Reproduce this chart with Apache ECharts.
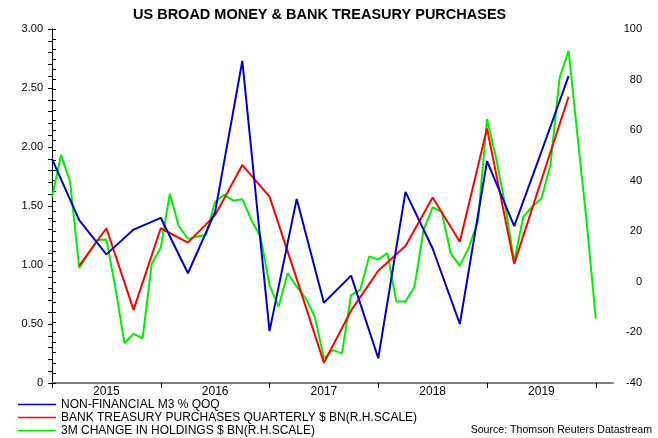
<!DOCTYPE html>
<html>
<head>
<meta charset="utf-8">
<script src="https://cdn.jsdelivr.net/npm/echarts@6/dist/echarts.min.js"></script>
<style>
html,body{margin:0;padding:0;background:#fff;}
#chart{width:658px;height:438px;}
</style>
</head>
<body>
<div id="chart"></div>
<script>
// Months counted from Jan 2015 (0 = start of 2015)
const yearLabels = ['2015', '2016', '2017', '2018', '2019'];
const yearTickMonths = [0, 12, 24, 36, 48, 60];

// NON-FINANCIAL M3 % QOQ (quarterly, first at month 0)
const m3Start = 0;
const m3Qoq = [1.90, 1.38, 1.09, 1.30, 1.40, 0.93, 1.45, 2.73, 0.44, 1.56,
               0.68, 0.91, 0.21, 1.62, 1.14, 0.50, 1.88, 1.33, 1.96, 2.60];

// BANK TREASURY PURCHASES QUARTERLY $ BN (quarterly, first at month 3)
const bankStart = 3;
const bankPurchases = [6.3, 21.2, -11.1, 21.2, 15.5, 26.4, 46.2, 33.7, 1.2, -32.0,
                       -11.4, 4.4, 14.2, 33.4, 15.9, 60.7, 7.1, 40.3, 73.2];

// 3M CHANGE IN HOLDINGS $ BN (monthly, first at month 0)
const holdStart = 0;
const holdingsChange = [33.4, 50.2, 39.5, 5.5, 11.0, 16.6, 16.8, -2.4, -24.3, -20.6,
                        -22.3, 7.0, 13.5, 34.8, 22.0, 17.0, 17.9, 18.5, 31.7, 34.4,
                        32.1, 32.7, 24.5, 17.9, -1.2, -9.8, 3.4, -1.9, -6.5, -13.8,
                        -30.2, -27.0, -28.3, -5.2, -3.2, 10.0, 8.9, 11.3, -7.8, -7.8,
                        -1.9, 20.5, 29.5, 27.7, 11.3, 6.3, 13.6, 24.0, 64.4, 49.0,
                        30.4, 8.0, 25.8, 29.7, 33.0, 46.2, 80.6, 91.4, 57.2, 23.4,
                        -14.5];

const seriesNames = [
  'NON-FINANCIAL M3 % QOQ',
  'BANK TREASURY PURCHASES QUARTERLY $ BN(R.H.SCALE)',
  '3M CHANGE IN HOLDINGS $ BN(R.H.SCALE)'
];

const xMax = 61.9;
const FONT = 'Liberation Sans, Arial, sans-serif';

function pairs(start, step, vals) {
  return vals.map((v, i) => [start + i * step, v]);
}

const chart = echarts.init(document.getElementById('chart'), null, {renderer: 'canvas'});
chart.setOption({
  animation: false,
  backgroundColor: '#ffffff',
  textStyle: {fontFamily: FONT, color: '#000'},
  title: {
    text: 'US BROAD MONEY & BANK TREASURY PURCHASES',
    left: 128, top: 2,
    textStyle: {fontFamily: FONT, fontSize: 14.5, fontWeight: 'bold', color: '#000'}
  },
  legend: {
    orient: 'vertical',
    left: 18, top: 398,
    itemWidth: 38, itemHeight: 1.5, itemGap: 0,
    icon: 'rect',
    padding: 0,
    textStyle: {fontFamily: FONT, fontSize: 12, color: '#000', lineHeight: 13, padding: [0, 0, 0, 0]},
    data: seriesNames
  },
  graphic: [{
    type: 'text', right: 6, top: 425,
    style: {text: 'Source: Thomson Reuters Datastream', font: '10.6px ' + FONT, fill: '#000'}
  }],
  grid: {left: 52, right: 45, top: 29, bottom: 55, containLabel: false},
  xAxis: [{
    type: 'value', min: 0, max: xMax, interval: 12,
    axisLine: {show: true, lineStyle: {color: '#808080', width: 2}},
    axisTick: {show: true, length: 5, lineStyle: {color: '#000', width: 1},
               customValues: yearTickMonths},
    axisLabel: {show: false},
    splitLine: {show: false}
  }, {
    type: 'value', min: 0, max: xMax, interval: 6, position: 'bottom',
    axisLine: {show: false}, axisTick: {show: false}, splitLine: {show: false},
    axisLabel: {
      show: true, margin: 3, fontSize: 12, color: '#000', fontFamily: FONT,
      formatter: v => (v % 12 === 6 ? yearLabels[(v - 6) / 12] || '' : '')
    }
  }],
  yAxis: [{
    type: 'value', min: 0, max: 3, interval: 0.5, position: 'left',
    axisLine: {show: true, lineStyle: {color: '#000', width: 1}},
    axisTick: {show: true, length: 4, lineStyle: {color: '#000'}},
    minorTick: {show: true, splitNumber: 5, length: 4, lineStyle: {color: '#000'}},
    splitLine: {show: false},
    axisLabel: {margin: 9, fontSize: 11, color: '#000', fontFamily: FONT, padding: [0, 0, 7, 0],
                formatter: v => (v === 0 ? '0' : v.toFixed(2))}
  }, {
    type: 'value', min: -40, max: 100, interval: 20, position: 'right',
    axisLine: {show: true, lineStyle: {color: '#000', width: 1}},
    axisTick: {show: true, length: 4, lineStyle: {color: '#000'}},
    minorTick: {show: true, splitNumber: 5, length: 4, lineStyle: {color: '#000'}},
    splitLine: {show: false},
    axisLabel: {margin: 29, align: 'right', fontSize: 11, color: '#000', fontFamily: FONT, padding: [0, 0, 7, 0]}
  }],
  series: [{
    name: seriesNames[0], type: 'line', xAxisIndex: 0, yAxisIndex: 0,
    data: pairs(m3Start, 3, m3Qoq),
    showSymbol: false, color: '#0000cc', lineStyle: {width: 2, color: '#0000cc'}, z: 3
  }, {
    name: seriesNames[1], type: 'line', xAxisIndex: 0, yAxisIndex: 1,
    data: pairs(bankStart, 3, bankPurchases),
    showSymbol: false, color: '#ff0000', lineStyle: {width: 2, color: '#ff0000'}, z: 2
  }, {
    name: seriesNames[2], type: 'line', xAxisIndex: 0, yAxisIndex: 1,
    data: pairs(holdStart, 1, holdingsChange),
    showSymbol: false, color: '#00ee00', lineStyle: {width: 2, color: '#00ee00'}, z: 1
  }]
});
</script>
</body>
</html>
